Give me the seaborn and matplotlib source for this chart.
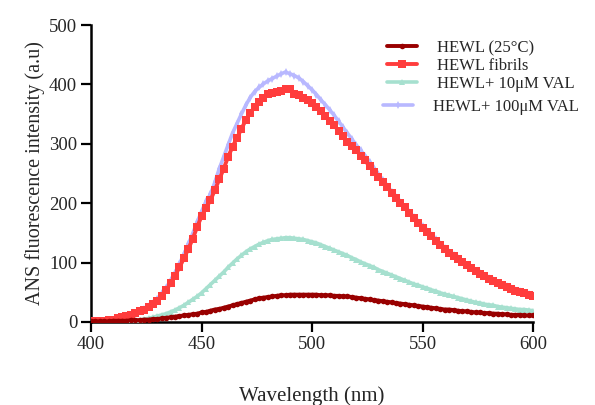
import numpy as np
import pandas as pd
import matplotlib
matplotlib.use("Agg")
import matplotlib.pyplot as plt
import seaborn as sns

# wavelength grid (nm), one reading every 2 nm
wavelength = list(range(400, 601, 2))

# HEWL (25°C)
hewl_25 = [1, 1, 1, 1, 1, 2, 2, 2, 2, 3, 3, 3, 4, 4, 5, 5, 6, 7, 8, 9,
           10, 11, 12, 13, 14, 16, 17, 19, 21, 22, 24, 26, 28, 30, 32, 34, 36, 38, 40, 41,
           42, 43, 44, 45, 45, 46, 46, 46, 46, 46, 46, 46, 45, 45, 45, 44, 44, 43, 43, 42,
           41, 40, 39, 38, 37, 36, 35, 34, 33, 32, 31, 30, 29, 28, 27, 26, 25, 24, 23, 22,
           21, 21, 20, 19, 18, 18, 17, 16, 16, 15, 15, 14, 14, 13, 13, 12, 12, 12, 11, 11, 11]

# HEWL fibrils
hewl_fib = [1, 1, 2, 2, 3, 4, 6, 8, 10, 12, 15, 18, 21, 25, 30, 36, 44, 54, 65, 78,
            92, 107, 123, 140, 160, 178, 192, 205, 222, 240, 258, 278, 295, 310, 325, 340, 352, 362, 370, 378,
            384, 385, 387, 389, 392, 393, 384, 383, 378, 374, 368, 362, 355, 347, 339, 331, 322, 314, 303, 296,
            289, 280, 272, 262, 253, 245, 236, 227, 218, 209, 201, 193, 184, 175, 167, 159, 151, 144, 137, 130,
            123, 117, 111, 106, 101, 96, 91, 86, 81, 77, 73, 69, 65, 62, 59, 56, 53, 51, 48, 46, 44]

# HEWL + 10 uM VAL
hewl_val10 = [1, 1, 1, 1, 1, 1, 1, 1, 2, 2, 3, 3, 5, 6, 8, 10, 12, 14, 17, 20,
              24, 28, 33, 38, 43, 49, 56, 63, 70, 77, 84, 92, 99, 106, 112, 118, 123, 127, 131, 134,
              137, 139, 140, 141, 142, 142, 141, 140, 139, 137, 135, 133, 130, 127, 124, 121, 118, 115, 112, 108,
              105, 101, 98, 95, 92, 88, 85, 82, 79, 76, 73, 70, 67, 64, 62, 59, 57, 54, 52, 49,
              47, 45, 43, 41, 39, 37, 35, 33, 32, 30, 29, 28, 26, 25, 24, 23, 22, 21, 21, 20, 19]

# HEWL + 100 uM VAL
hewl_val100 = [1, 1, 2, 2, 3, 4, 5, 7, 9, 12, 15, 18, 22, 27, 32, 39, 48, 58, 70, 83,
               98, 114, 131, 149, 168, 186, 203, 215, 235, 258, 278, 298, 318, 334, 350, 365, 378, 388, 395, 401,
               406, 410, 414, 418, 421, 418, 415, 411, 405, 398, 391, 383, 374, 366, 357, 348, 338, 328, 318, 308,
               298, 289, 280, 270, 259, 249, 239, 229, 219, 210, 202, 194, 185, 177, 169, 161, 153, 146, 139, 132,
               125, 118, 112, 107, 101, 96, 91, 86, 82, 78, 74, 70, 66, 63, 60, 57, 54, 52, 49, 47, 45]

labels = ["HEWL (25°C)", "HEWL fibrils", "HEWL+ 10μM VAL", "HEWL+ 100μM VAL"]
series = [hewl_25, hewl_fib, hewl_val10, hewl_val100]
colors = ["#990000", "#ff3d3d", "#a6e0cf", "#b8b8ff"]
markers = ["o", "s", "^", "d"]
msizes = [4, 6, 4, 4]
lwidths = [2.8, 2.8, 2.6, 2.6]
zorders = [5, 4, 3, 2]

sns.set_style("ticks")
plt.rcParams["font.family"] = ["Liberation Serif", "DejaVu Serif"]

fig = plt.figure(figsize=(5.95, 4.05), dpi=100)
ax = fig.add_axes([0.153, 0.205, 0.743, 0.733])

for vals, lab, col, mk, ms, lw, z in zip(series, labels, colors, markers, msizes, lwidths, zorders):
    sns.lineplot(x=wavelength, y=vals, ax=ax, color=col, marker=mk, markersize=ms,
                 markeredgewidth=0, linewidth=lw, label=lab, zorder=z)

ax.set_xlim(400, 600)
ax.set_ylim(0, 500)
ax.set_xticks([400, 450, 500, 550, 600])
ax.set_yticks([0, 100, 200, 300, 400, 500])
sns.despine(ax=ax)
for sp in ["left", "bottom"]:
    ax.spines[sp].set_linewidth(1.8)
    ax.spines[sp].set_color("black")
ax.tick_params(axis="both", length=7, width=1.6, labelsize=13.5, color="black", pad=3)
ax.set_xlabel("Wavelength (nm)", fontsize=15, labelpad=24)
ax.set_ylabel("ANS fluorescence intensity (a.u)", fontsize=14.5, labelpad=3)

# legend: first three entries together, the last one set a little apart as in the source
handles, labs = ax.get_legend_handles_labels()
leg1 = ax.legend(handles[:3], labs[:3], loc="upper left", bbox_to_anchor=(0.67, 0.95),
                 frameon=False, fontsize=12, handlelength=1.8, handletextpad=1.2,
                 labelspacing=0.12, borderaxespad=0, borderpad=0)
ax.add_artist(leg1)
leg2 = ax.legend(handles[3:], labs[3:], loc="upper left", bbox_to_anchor=(0.66, 0.752),
                 frameon=False, fontsize=12, handlelength=1.8, handletextpad=1.2,
                 borderaxespad=0, borderpad=0)

fig.savefig("out.png", dpi=100)
